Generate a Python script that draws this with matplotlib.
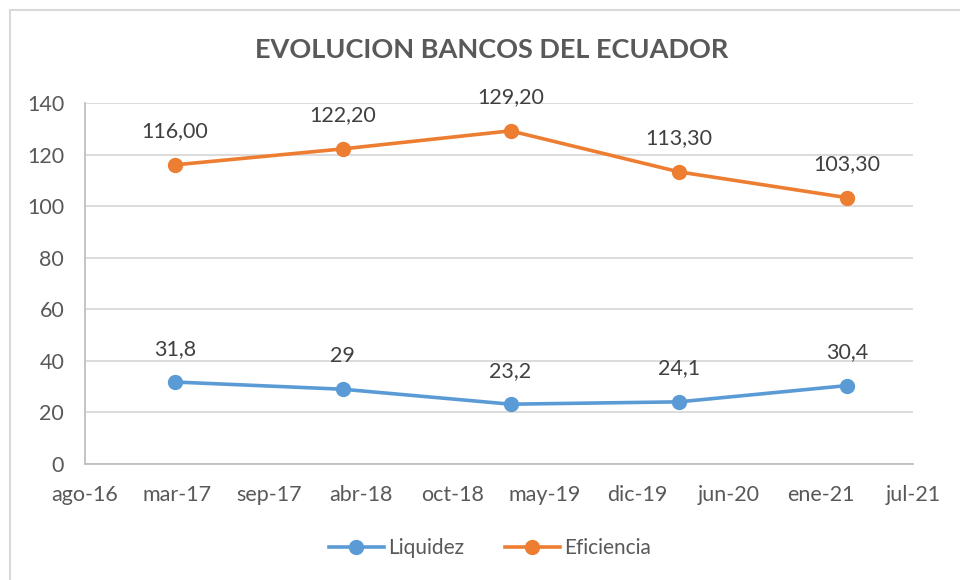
import datetime as dt
import matplotlib
matplotlib.use("Agg")
from matplotlib import pyplot as plt
from matplotlib.lines import Line2D

fechas = ["2017-03-01", "2018-03-01", "2019-03-01", "2020-03-01", "2021-03-01"]
liquidez = [31.8, 29, 23.2, 24.1, 30.4]
eficiencia = [116.00, 122.20, 129.20, 113.30, 103.30]
etiquetas_liquidez = ["31,8", "29", "23,2", "24,1", "30,4"]
etiquetas_eficiencia = ["116,00", "122,20", "129,20", "113,30", "103,30"]
meses = ["ago-16", "mar-17", "sep-17", "abr-18", "oct-18",
         "may-19", "dic-19", "jun-20", "ene-21", "jul-21"]

AZUL = "#5B9BD5"
NARANJA = "#ED7D31"
GRIS = "#595959"

plt.rcParams['font.family'] = ['Lato', 'DejaVu Sans']

inicio = dt.date(2016, 8, 18)
x = [(dt.date.fromisoformat(f) - inicio).days for f in fechas]
ticks = [200 * i for i in range(len(meses))]

fig = plt.figure(figsize=(9.6, 5.8), dpi=100)
ax = fig.add_axes([85 / 960, 1 - 464 / 580, 828 / 960, 361 / 580])

for serie, color, etiquetas in [(liquidez, AZUL, etiquetas_liquidez),
                                (eficiencia, NARANJA, etiquetas_eficiencia)]:
    ax.plot(x, serie, color=color, lw=2.6, marker="o", ms=10,
            solid_capstyle="round", zorder=3)
    for xi, yi, txt in zip(x, serie, etiquetas):
        ax.annotate(txt, (xi, yi), xytext=(0, 24), textcoords="offset points",
                    ha="center", va="center", fontsize=15.5, color="#404040")

ax.set_xlim(0, 1800)
ax.set_ylim(0, 140)
ax.set_yticks(range(0, 141, 20))
ax.set_xticks(ticks)
ax.set_xticklabels(meses)
ax.grid(axis="y", color="#d9d9d9", lw=1.3)
ax.set_axisbelow(True)
for lado in ["top", "right"]:
    ax.spines[lado].set_visible(False)
for lado in ["left", "bottom"]:
    ax.spines[lado].set_color("#bfbfbf")
    ax.spines[lado].set_linewidth(1.3)
ax.tick_params(length=0, labelsize=15.5, labelcolor=GRIS)
ax.tick_params(axis="x", pad=15)
ax.tick_params(axis="y", pad=15)

fig.text(492 / 960, 1 - 50 / 580, "EVOLUCION BANCOS DEL ECUADOR", ha="center",
         va="center", fontsize=19.5, fontweight="bold", color=GRIS)

# borde del area del grafico
fig.add_artist(Line2D([10 / 960, 10 / 960], [0, 1 - 10 / 580],
                      transform=fig.transFigure, color="#d9d9d9", lw=1.5))
fig.add_artist(Line2D([10 / 960, 1], [1 - 10 / 580, 1 - 10 / 580],
                      transform=fig.transFigure, color="#d9d9d9", lw=1.5))

handles = [Line2D([], [], color=AZUL, lw=2.6, marker="o", ms=10),
           Line2D([], [], color=NARANJA, lw=2.6, marker="o", ms=10)]
fig.legend(handles, ["Liquidez", "Eficiencia"], loc="center",
           bbox_to_anchor=(490 / 960, 1 - 548 / 580), ncol=2, frameon=False,
           fontsize=15, labelcolor=GRIS, handlelength=2.6, handletextpad=0.2,
           columnspacing=2.0)

fig.savefig("out.png", dpi=100)
